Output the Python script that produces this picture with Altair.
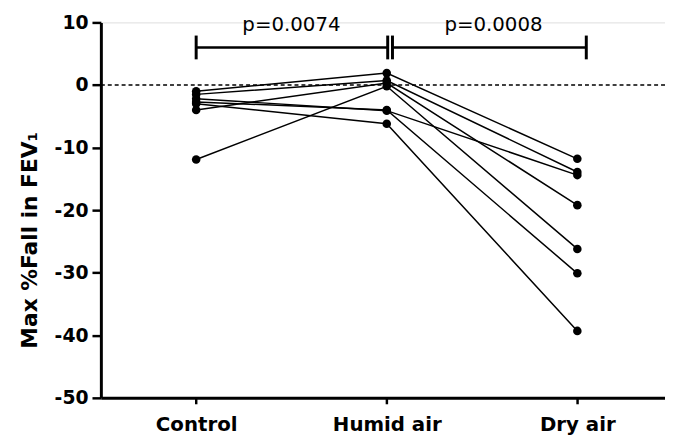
import altair as alt
import pandas as pd

conditions = ["Control", "Humid air", "Dry air"]
subjects = [1, 2, 3, 4, 5, 6, 7]
control = [-1.0, -1.5, -2.2, -2.7, -4.0, -11.9, -3.0]
humid = [1.9, 0.7, -4.1, -4.0, 0.3, -0.2, -6.2]
dry = [-11.8, -13.9, -14.4, -30.1, -19.2, -26.2, -39.3]

# significance brackets
bracket_start = [0.0, 1.03]
bracket_end = [1.005, 2.047]
bracket_y = [6.0, 6.0]
bracket_labels = ["p=0.0074", "p=0.0008"]
bracket_label_x = [0.5, 1.56]
bracket_label_y = [8.6, 8.6]
bracket_half = 1.9

FONT = "DejaVu Sans"

rows = []
for i, s in enumerate(subjects):
    for xi, vals in enumerate([control, humid, dry]):
        rows.append({"subject": s, "x": xi, "cond": conditions[xi], "value": vals[i]})
df = pd.DataFrame(rows)

br = pd.DataFrame({"x": bracket_start, "x2": bracket_end, "y": bracket_y})
ends = pd.DataFrame({
    "x": bracket_start + bracket_end,
    "y": [v - bracket_half for v in bracket_y] * 2,
    "y2": [v + bracket_half for v in bracket_y] * 2,
})
lab = pd.DataFrame({"x": bracket_label_x, "y": bracket_label_y, "t": bracket_labels})
zero = pd.DataFrame({"y": [0]})

label_expr = ("datum.value == 0 ? '%s' : datum.value == 1 ? '%s' : '%s'"
              % (conditions[0], conditions[1], conditions[2]))

xscale = alt.Scale(domain=[-0.5, 2.46], nice=False, zero=False)
yscale = alt.Scale(domain=[-50, 10], nice=False, zero=False)

xaxis = alt.Axis(values=[0, 1, 2], labelExpr=label_expr, title=None, grid=False,
                 labelFont=FONT, labelFontSize=20, labelFontWeight="bold",
                 labelColor="black", domainColor="black", domainWidth=3,
                 tickColor="black", tickWidth=2.5, tickSize=6, labelPadding=11)
yaxis = alt.Axis(values=[-50, -40, -30, -20, -10, 0, 10], title="Max %Fall in FEV₁",
                 labelExpr="toString(datum.value)",
                 grid=False, labelFont=FONT, labelFontSize=19, labelFontWeight="bold",
                 labelColor="black", domainColor="black", domainWidth=3,
                 tickColor="black", tickWidth=2.5, tickSize=9, labelPadding=4,
                 titleFont=FONT, titleFontSize=22, titleFontWeight="bold",
                 titleColor="black", titleX=-72, titleY=220, titleAlign="center",
                 titleBaseline="middle", titleAngle=270)

base = alt.Chart(df)

zero_rule = alt.Chart(zero).mark_rule(color="black", strokeDash=[4, 3], strokeWidth=1.3).encode(
    y=alt.Y("y:Q", scale=yscale, axis=yaxis)
)

lines = base.mark_line(color="black", strokeWidth=1.5, clip=False).encode(
    x=alt.X("x:Q", scale=xscale, axis=xaxis),
    y=alt.Y("value:Q", scale=yscale, axis=yaxis),
    detail="subject:N",
    order="x:Q",
)

points = base.mark_point(filled=True, color="black", opacity=1, size=75, clip=False).encode(
    x=alt.X("x:Q", scale=xscale, axis=xaxis),
    y=alt.Y("value:Q", scale=yscale, axis=yaxis),
)

hbr = alt.Chart(br).mark_rule(color="black", strokeWidth=2.5, clip=False).encode(
    x=alt.X("x:Q", scale=xscale, axis=xaxis), x2="x2:Q",
    y=alt.Y("y:Q", scale=yscale, axis=yaxis),
)
vbr = alt.Chart(ends).mark_rule(color="black", strokeWidth=3, clip=False).encode(
    x=alt.X("x:Q", scale=xscale, axis=xaxis),
    y=alt.Y("y:Q", scale=yscale, axis=yaxis), y2="y2:Q",
)
txt = alt.Chart(lab).mark_text(font=FONT, fontSize=20, color="black", baseline="alphabetic",
                               align="center", clip=False).encode(
    x=alt.X("x:Q", scale=xscale, axis=xaxis),
    y=alt.Y("y:Q", scale=yscale, axis=yaxis),
    text="t:N",
)

chart = alt.layer(zero_rule, lines, points, hbr, vbr, txt).properties(
    width=571, height=380,
    autosize=alt.AutoSizeParams(type="none"),
    padding={"left": 94, "top": 12, "right": 0, "bottom": 35},
).configure_view(stroke=None).configure(background="white")

chart.save("out.html", embed_options={"renderer": "svg", "actions": False})
